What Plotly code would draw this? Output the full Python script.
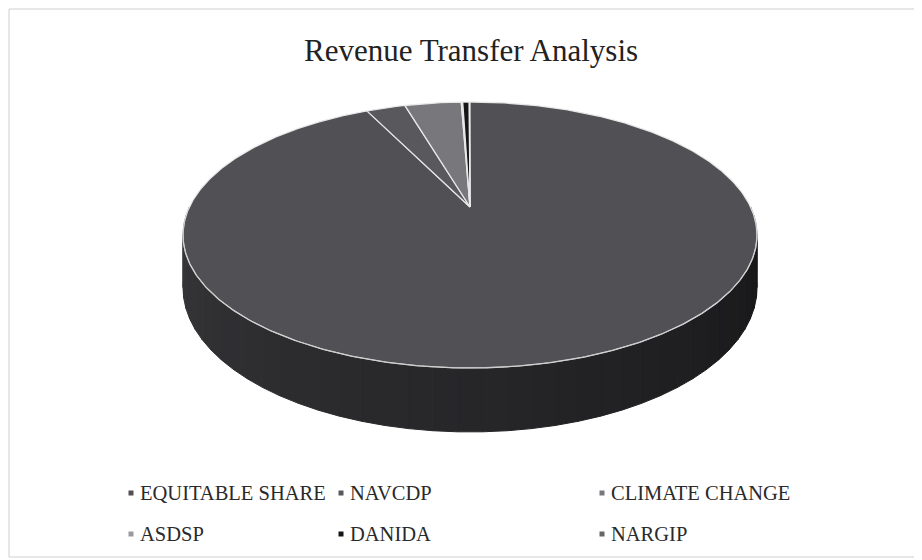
import numpy as np
import plotly.graph_objects as go

# ---- data (percent share of revenue transfers) ----
categories = ["EQUITABLE SHARE", "NAVCDP", "CLIMATE CHANGE", "ASDSP", "DANIDA", "NARGIP"]
values = [92.8, 2.7, 3.9, 0.1, 0.45, 0.05]
title_text = "Revenue Transfer Analysis"

# ---- style ----
slice_colors = ["#505055", "#58585d", "#78787c", "#9a9a9e", "#151517", "#66666a"]
legend_cols = [131, 341, 602]
legend_rows = [493, 534]
FONT = "Liberation Serif"

W, H = 922, 560
OFF = 8  # default page body margin; coordinates below are window pixels
# projection of the tilted disc (window pixel coordinates)
CX, CY, A, B, K, DEPTH = 470.0, 207.0, 280.6, 127.1, 0.2105, 50.5


def proj(theta_deg, drop=0.0):
    t = np.radians(theta_deg)
    u, v = np.sin(t), np.cos(t)
    w = 1 + K * v
    return CX + A * u / w, CY - B * v / w + drop / w


def hex_rgb(h):
    h = h.lstrip("#")
    return np.array([int(h[i:i + 2], 16) for i in (0, 2, 4)], dtype=float)


def shade(h, f):
    c = np.clip(hex_rgb(h) * f, 0, 255).astype(int)
    return f"rgb({c[0]},{c[1]},{c[2]})"


fig = go.Figure()

total = float(sum(values))
starts = np.cumsum([0] + values[:-1]) / total * 360.0
ends = np.cumsum(values) / total * 360.0

# side wall (visible front half: 90..270 degrees)
for name, s, e, col in zip(categories, starts, ends, slice_colors):
    lo, hi = max(s, 90.0), min(e, 270.0)
    if hi <= lo:
        continue
    nseg = max(1, int((hi - lo) / 4))
    edges = np.linspace(lo, hi, nseg + 1)
    for a0, a1 in zip(edges[:-1], edges[1:]):
        th = np.linspace(a0, a1, 6)
        xt, yt = proj(th)
        xb, yb = proj(th[::-1], DEPTH)
        mid = (a0 + a1) / 2
        # lighter on the left, darker on the right
        f = 0.27 + 0.43 * (mid - 90) / 180.0
        c = shade(col, f)
        fig.add_trace(go.Scatter(
            x=np.concatenate([xt, xb, xt[:1]]), y=np.concatenate([yt, yb, yt[:1]]),
            mode="lines", fill="toself", fillcolor=c,
            line=dict(color=c, width=1), hoverinfo="skip", showlegend=False))

# top face slices
for name, val, s, e, col in zip(categories, values, starts, ends, slice_colors):
    n = max(3, int((e - s) * 2))
    th = np.linspace(s, e, n)
    xa, ya = proj(th)
    x = np.concatenate([[CX], xa, [CX]])
    y = np.concatenate([[CY], ya, [CY]])
    fig.add_trace(go.Scatter(
        x=x, y=y, mode="lines", fill="toself", fillcolor=col,
        line=dict(color="rgba(235,235,235,0.95)", width=1.3),
        name=name, text=f"{name}: {val}%", hoverinfo="text", showlegend=False))

# rim highlight along the front edge
th = np.linspace(95, 265, 200)
xr, yr = proj(th)
fig.add_trace(go.Scatter(x=xr, y=yr, mode="lines",
                         line=dict(color="rgba(200,200,200,0.8)", width=1),
                         hoverinfo="skip", showlegend=False))

# legend (custom grid, as in the original)
shapes = []
annotations = []
for i, (name, col) in enumerate(zip(categories, slice_colors)):
    cx = legend_cols[i % 3]
    cy = legend_rows[i // 3]
    shapes.append(dict(type="rect", xref="x", yref="y",
                       x0=cx - 2.5, x1=cx + 2.5, y0=cy - 2.5, y1=cy + 2.5,
                       fillcolor=col, line=dict(width=0)))
    annotations.append(dict(x=cx + 7, y=cy, xref="x", yref="y", text=name,
                            showarrow=False, xanchor="left", yanchor="middle",
                            font=dict(family=FONT, size=20.5, color="#2a2a2a")))

annotations.append(dict(x=471, y=50, xref="x", yref="y", text=title_text,
                        showarrow=False, xanchor="center", yanchor="middle",
                        font=dict(family=FONT, size=31, color="#222222")))

# chart border
shapes.append(dict(type="rect", xref="x", yref="y", x0=OFF + 1, x1=919, y0=9, y1=557,
                   line=dict(color="#cfcfcf", width=1), fillcolor="rgba(0,0,0,0)"))

fig.update_layout(
    width=W - OFF, height=H - OFF, margin=dict(l=0, r=0, t=0, b=0),
    paper_bgcolor="white", plot_bgcolor="white",
    xaxis=dict(range=[OFF, W], visible=False, fixedrange=True),
    yaxis=dict(range=[H, OFF], visible=False, fixedrange=True),
    shapes=shapes, annotations=annotations, showlegend=False,
)

fig.write_html("out.html")
